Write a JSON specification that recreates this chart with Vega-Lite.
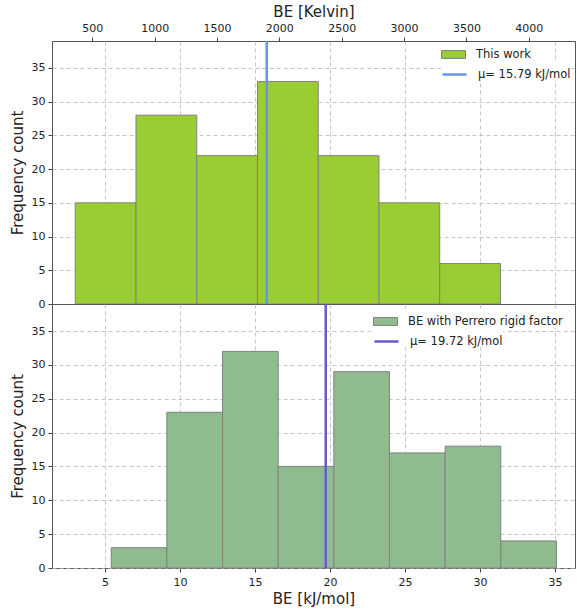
{
  "$schema": "https://vega.github.io/schema/vega-lite/v6.json",
  "autosize": {"type": "pad"},
  "padding": {"left": 9, "top": 3, "right": 3, "bottom": 5},
  "background": "white",
  "config": {
    "font": "DejaVu Sans",
    "view": {"stroke": "#555555", "strokeWidth": 1},
    "axis": {
      "labelFont": "DejaVu Sans", "titleFont": "DejaVu Sans",
      "labelFontSize": 11, "titleFontSize": 15, "titleFontWeight": "normal",
      "labelColor": "#222222", "titleColor": "#222222",
      "tickColor": "#444444", "tickSize": 4, "labelPadding": 3,
      "gridColor": "#b8b8b8", "gridDash": [4, 3], "gridWidth": 0.8,
      "domain": false
    },
    "legend": {
      "labelFont": "DejaVu Sans", "labelFontSize": 11.5, "labelColor": "#222222",
      "orient": "none", "fillColor": "white", "strokeColor": null,
      "padding": 0, "symbolSize": 576, "rowPadding": 0, "labelOffset": 10,
      "symbolOpacity": 1
    }
  },
  "spacing": 0,
  "bounds": "flush",
  "resolve": {"scale": {"fill": "independent", "stroke": "independent"}},
  "vconcat": [
    {
      "width": 523, "height": 263,
      "layer": [
        {
          "layer": [
            {
              "data": {"values": [
                {"lo": 3.02, "hi": 7.07, "n": 15},
                {"lo": 7.07, "hi": 11.12, "n": 28},
                {"lo": 11.12, "hi": 15.17, "n": 22},
                {"lo": 15.17, "hi": 19.22, "n": 33},
                {"lo": 19.22, "hi": 23.27, "n": 22},
                {"lo": 23.27, "hi": 27.32, "n": 15},
                {"lo": 27.32, "hi": 31.37, "n": 6}
              ]},
              "mark": {"type": "bar", "stroke": "#808080", "strokeWidth": 1, "opacity": 1},
              "encoding": {
                "x": {"field": "lo", "type": "quantitative",
                  "scale": {"domain": [1.47, 36.34], "nice": false, "zero": false},
                  "axis": {"orient": "bottom", "values": [5, 10, 15, 20, 25, 30, 35], "labels": false, "ticks": false, "title": null, "grid": true}},
                "x2": {"field": "hi"},
                "y": {"field": "n", "type": "quantitative",
                  "scale": {"domain": [0, 39], "nice": false},
                  "axis": {"values": [0, 5, 10, 15, 20, 25, 30, 35], "title": "Frequency count", "grid": true, "titlePadding": 6}},
                "y2": {"datum": 0},
                "fill": {"datum": "This work", "type": "nominal",
                  "scale": {"domain": ["This work"], "range": ["#9acd32"]},
                  "legend": {"title": null, "legendX": 389, "legendY": 1, "symbolType": "M-1,-0.33H1V0.33H-1Z", "symbolStrokeColor": "#808080", "symbolStrokeWidth": 1}}
              }
            },
            {
              "data": {"values": [{"mean": 15.79}]},
              "mark": {"type": "rule", "strokeWidth": 2.5},
              "encoding": {
                "x": {"field": "mean", "type": "quantitative", "scale": {"domain": [1.47, 36.34], "nice": false, "zero": false}},
                "stroke": {"datum": "μ= 15.79 kJ/mol", "type": "nominal",
                  "scale": {"domain": ["μ= 15.79 kJ/mol"], "range": ["#6495ed"]},
                  "legend": {"title": null, "legendX": 389, "legendY": 20, "symbolType": "stroke", "symbolStrokeWidth": 2.5}}
              }
            }
          ]
        },
        {
          "data": {"values": [{"K": 1899}]},
          "mark": {"type": "rule", "opacity": 0},
          "encoding": {
            "x": {"field": "K", "type": "quantitative",
              "scale": {"domain": [176.8, 4370.6], "nice": false, "zero": false},
              "axis": {"orient": "top", "values": [500, 1000, 1500, 2000, 2500, 3000, 3500, 4000], "title": "BE [Kelvin]", "grid": false, "labelPadding": 4, "titlePadding": 3, "format": "d"}}
          }
        }
      ],
      "resolve": {"scale": {"x": "independent"}}
    },
    {
      "width": 523, "height": 264,
      "layer": [
        {
          "data": {"values": [
            {"lo": 5.42, "hi": 9.13, "n": 3},
            {"lo": 9.13, "hi": 12.84, "n": 23},
            {"lo": 12.84, "hi": 16.55, "n": 32},
            {"lo": 16.55, "hi": 20.26, "n": 15},
            {"lo": 20.26, "hi": 23.97, "n": 29},
            {"lo": 23.97, "hi": 27.68, "n": 17},
            {"lo": 27.68, "hi": 31.39, "n": 18},
            {"lo": 31.39, "hi": 35.10, "n": 4}
          ]},
          "mark": {"type": "bar", "stroke": "#808080", "strokeWidth": 1, "opacity": 1},
          "encoding": {
            "x": {"field": "lo", "type": "quantitative",
              "scale": {"domain": [1.47, 36.34], "nice": false, "zero": false},
              "axis": {"orient": "bottom", "values": [5, 10, 15, 20, 25, 30, 35], "title": "BE [kJ/mol]", "grid": true, "labelPadding": 4, "titlePadding": 4}},
            "x2": {"field": "hi"},
            "y": {"field": "n", "type": "quantitative",
              "scale": {"domain": [0, 39], "nice": false},
              "axis": {"values": [0, 5, 10, 15, 20, 25, 30, 35], "title": "Frequency count", "grid": true, "titlePadding": 6}},
            "y2": {"datum": 0},
            "fill": {"datum": "BE with Perrero rigid factor", "type": "nominal",
              "scale": {"domain": ["BE with Perrero rigid factor"], "range": ["#8fbc8f"]},
              "legend": {"title": null, "legendX": 321, "legendY": 5, "symbolType": "M-1,-0.33H1V0.33H-1Z", "symbolStrokeColor": "#808080", "symbolStrokeWidth": 1}}
          }
        },
        {
          "data": {"values": [{"mean": 19.72}]},
          "mark": {"type": "rule", "strokeWidth": 2.5},
          "encoding": {
            "x": {"field": "mean", "type": "quantitative", "scale": {"domain": [1.47, 36.34], "nice": false, "zero": false}},
            "stroke": {"datum": "μ= 19.72 kJ/mol", "type": "nominal",
              "scale": {"domain": ["μ= 19.72 kJ/mol"], "range": ["#6a5acd"]},
              "legend": {"title": null, "legendX": 321, "legendY": 24, "symbolType": "stroke", "symbolStrokeWidth": 2.5}}
          }
        }
      ]
    }
  ]
}
